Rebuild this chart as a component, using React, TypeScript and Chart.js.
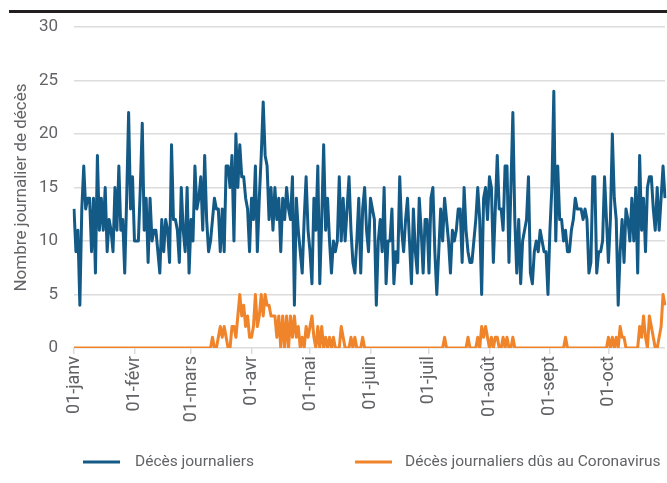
import React, { useEffect, useRef } from "react";
import { Chart, registerables } from "chart.js";

Chart.register(...registerables);

const monthNames = ["janv", "févr", "mars", "avr", "mai", "juin", "juil", "août", "sept", "oct"];

// Décès journaliers (blue)
const decesJanv = [13, 9, 11, 4, 13, 17, 13, 14, 14, 9, 14, 7, 18, 11, 14, 11, 15, 9, 12, 11, 9, 15, 11, 17, 11, 12, 7, 14, 22, 13, 16];
const decesFevr = [10, 10, 10, 15, 21, 11, 14, 8, 14, 10, 11, 11, 9, 7, 12, 9, 12, 11, 8, 19, 12, 12, 11, 8, 15, 11, 9, 15, 7];
const decesMars = [12, 10, 17, 13, 14, 16, 11, 18, 12, 9, 10, 12, 14, 13, 13, 9, 13, 9, 17, 17, 15, 18, 10, 20, 15, 19, 16, 16, 14, 13, 9];
const decesAvr = [14, 12, 17, 9, 14, 18, 23, 18, 17, 12, 15, 11, 15, 12, 14, 9, 14, 12, 15, 13, 12, 16, 4, 14, 11, 9, 7, 12, 16, 11];
const decesMai = [9, 6, 14, 11, 17, 6, 12, 19, 11, 14, 10, 7, 10, 9, 10, 16, 10, 14, 10, 13, 16, 11, 8, 7, 10, 14, 7, 13, 15, 11, 9];
const decesJuin = [14, 13, 12, 4, 10, 12, 9, 15, 6, 10, 10, 13, 6, 9, 8, 16, 11, 9, 12, 14, 10, 6, 13, 9, 7, 14, 11, 7, 12, 12];
const decesJuil = [7, 14, 15, 9, 5, 9, 13, 10, 14, 12, 10, 7, 11, 10, 11, 13, 13, 8, 15, 11, 9, 8, 8, 10, 12, 15, 12, 5, 14, 15, 12];
const decesAout = [16, 15, 8, 13, 18, 13, 13, 11, 17, 17, 8, 15, 22, 12, 7, 12, 6, 10, 11, 12, 16, 7, 6, 9, 10, 9, 11, 10, 9, 9, 5];
const decesSept = [11, 15, 24, 10, 17, 12, 12, 10, 11, 9, 9, 11, 12, 14, 13, 13, 13, 12, 13, 12, 7, 8, 16, 16, 7, 9, 9, 10, 16, 12];
const decesOct = [8, 12, 20, 14, 12, 4, 9, 12, 8, 13, 12, 10, 14, 10, 15, 7, 18, 11, 14, 9, 15, 16, 16, 13, 11, 15, 11, 14, 17, 14];

// Décès journaliers dûs au Coronavirus (orange)
const covidJanv = [0, 0, 0, 0, 0, 0, 0, 0, 0, 0, 0, 0, 0, 0, 0, 0, 0, 0, 0, 0, 0, 0, 0, 0, 0, 0, 0, 0, 0, 0, 0];
const covidFevr = [0, 0, 0, 0, 0, 0, 0, 0, 0, 0, 0, 0, 0, 0, 0, 0, 0, 0, 0, 0, 0, 0, 0, 0, 0, 0, 0, 0, 0];
const covidMars = [0, 0, 0, 0, 0, 0, 0, 0, 0, 0, 0, 1, 0, 0, 1, 2, 1, 2, 1, 0, 0, 2, 2, 1, 3, 5, 3, 4, 2, 3, 1];
const covidAvr = [1, 2, 5, 2, 3, 5, 3, 5, 4, 4, 3, 3, 3, 1, 3, 0, 3, 0, 3, 0, 3, 1, 3, 1, 2, 0, 1, 0, 2, 1];
const covidMai = [2, 3, 1, 0, 2, 0, 2, 0, 1, 0, 1, 0, 1, 0, 0, 0, 2, 1, 0, 0, 0, 1, 0, 1, 0, 0, 0, 1, 0, 0, 0];
const covidJuin = [0, 0, 0, 0, 0, 0, 0, 0, 0, 0, 0, 0, 0, 0, 0, 0, 0, 0, 0, 0, 0, 0, 0, 0, 0, 0, 0, 0, 0, 0];
const covidJuil = [0, 0, 0, 0, 0, 0, 0, 0, 1, 0, 0, 0, 0, 0, 0, 0, 0, 0, 0, 0, 1, 0, 0, 0, 0, 1, 0, 2, 1, 2, 1];
const covidAout = [0, 1, 0, 1, 1, 0, 0, 1, 0, 1, 0, 0, 1, 0, 0, 0, 0, 0, 0, 0, 0, 0, 0, 0, 0, 0, 0, 0, 0, 0, 0];
const covidSept = [0, 0, 0, 0, 0, 0, 0, 0, 1, 0, 0, 0, 0, 0, 0, 0, 0, 0, 0, 0, 0, 0, 0, 0, 0, 0, 0, 0, 0, 0];
const covidOct = [1, 0, 1, 0, 1, 0, 2, 1, 1, 0, 0, 0, 0, 0, 0, 0, 2, 1, 3, 1, 0, 3, 2, 1, 0, 0, 1, 2, 5, 4];

const decesMonths = [decesJanv, decesFevr, decesMars, decesAvr, decesMai, decesJuin, decesJuil, decesAout, decesSept, decesOct];
const covidMonths = [covidJanv, covidFevr, covidMars, covidAvr, covidMai, covidJuin, covidJuil, covidAout, covidSept, covidOct];

const labels: string[] = [];
decesMonths.forEach((m, mi) => {
  m.forEach((_, di) => {
    labels.push(String(di + 1).padStart(2, "0") + "-" + monthNames[mi]);
  });
});
const decesData = decesMonths.flat();
const covidData = covidMonths.flat();

const BLUE = "#145a86";
const ORANGE = "#f0842a";
const TEXT = "#626366";
const GRID = "#dcdcdc";
const FONT = "Roboto";

const frameAndLegend = {
  id: "frameAndLegend",
  afterDraw(chart: any) {
    const ctx = chart.ctx;
    ctx.save();
    ctx.fillStyle = "#231f20";
    ctx.fillRect(9, 10, chart.width - 9, 3);
    const y = 462;
    const items = [
      { x: 83, tx: 135 },
      { x: 355, tx: 405 },
    ];
    chart.data.datasets.forEach((ds: any, i: number) => {
      const it = items[i];
      ctx.strokeStyle = ds.borderColor;
      ctx.lineWidth = 3;
      ctx.beginPath();
      ctx.moveTo(it.x, y);
      ctx.lineTo(it.x + 37, y);
      ctx.stroke();
      ctx.fillStyle = TEXT;
      ctx.font = `15.5px ${FONT}`;
      ctx.textBaseline = "middle";
      ctx.textAlign = "left";
      ctx.fillText(ds.label, it.tx, y);
    });
    ctx.restore();
  },
};

export default function App() {
  const ref = useRef<HTMLCanvasElement | null>(null);
  useEffect(() => {
    if (!ref.current) return;
    const chart = new Chart(ref.current, {
      type: "line",
      data: {
        labels,
        datasets: [
          {
            label: "Décès journaliers",
            data: decesData,
            borderColor: BLUE,
            backgroundColor: BLUE,
            borderWidth: 3,
            pointRadius: 0,
            tension: 0,
            borderJoinStyle: "round",
          },
          {
            label: "Décès journaliers dûs au Coronavirus",
            data: covidData,
            borderColor: ORANGE,
            backgroundColor: ORANGE,
            borderWidth: 3,
            pointRadius: 0,
            tension: 0,
            borderJoinStyle: "round",
          },
        ],
      },
      options: {
        animation: false,
        responsive: true,
        maintainAspectRatio: false,
        layout: { padding: { left: 8, right: 2, top: 27, bottom: 55 } },
        plugins: { legend: { display: false }, tooltip: { enabled: false } },
        scales: {
          x: {
            type: "category",
            offset: false,
            grid: { drawOnChartArea: false, drawTicks: true, tickLength: 6, color: GRID, lineWidth: 1.5 },
            border: { display: false },
            ticks: {
              autoSkip: false,
              maxRotation: 90,
              minRotation: 90,
              padding: 2,
              color: TEXT,
              font: { family: FONT, size: 18 },
              callback: (_v: any, i: number) => (labels[i].startsWith("01-") ? labels[i] : null),
            },
            afterFit: (s: any) => {
              s.height = 80;
              s.paddingLeft = 0;
              s.paddingRight = 0;
            },
          },
          y: {
            min: 0,
            max: 30,
            ticks: { stepSize: 5, padding: 16, color: TEXT, font: { family: FONT, size: 17 } },
            grid: { color: GRID, lineWidth: 1.5, drawTicks: false },
            border: { display: false },
            title: {
              display: true,
              text: "Nombre journalier de décès",
              color: TEXT,
              font: { family: FONT, size: 17 },
            },
            afterFit: (s: any) => {
              s.width = 66;
              s.paddingTop = 0;
              s.paddingBottom = 0;
            },
          },
        },
      } as any,
      plugins: [frameAndLegend],
    });
    return () => chart.destroy();
  }, []);
  return (
    <div style={{ position: "absolute", left: 0, top: 0, width: 667, height: 483 }}>
      <canvas ref={ref} />
    </div>
  );
}
